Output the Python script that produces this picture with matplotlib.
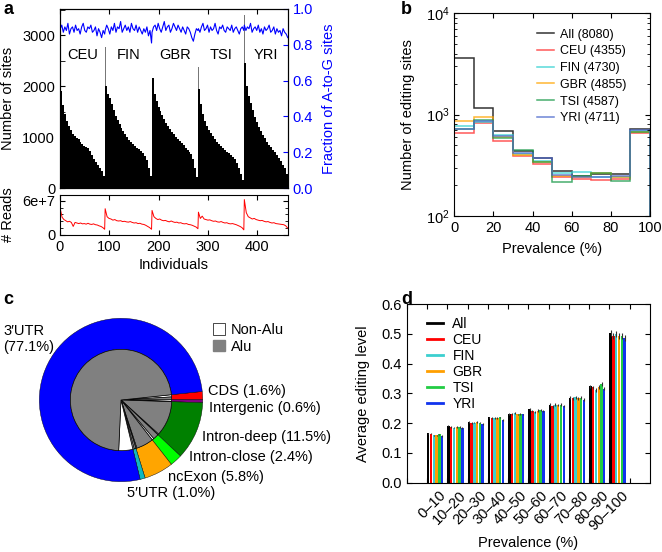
import numpy as np
import matplotlib
matplotlib.use('Agg')
import matplotlib.pyplot as plt
from matplotlib.lines import Line2D
from matplotlib.patches import Patch
from matplotlib.ticker import MultipleLocator

plt.rcParams['font.family'] = ['Liberation Sans', 'DejaVu Sans']
plt.rcParams['font.size'] = 10.5

W, H = 662, 552

# ---------------- panel a data ----------------
pops = ['CEU', 'FIN', 'GBR', 'TSI', 'YRI']
pop_sizes = [91, 95, 94, 93, 89]

# number of sites per individual (sorted, read in blocks of ~4 individuals)
sites_ceu = [1900, 1620, 1460, 1320, 1210, 1130, 1060, 1010, 985, 960, 910, 860,
             830, 800, 775, 720, 640, 570, 510, 450, 390, 330, 230]
sites_fin = [2000, 1850, 1760, 1640, 1520, 1420, 1330, 1250, 1170, 1110, 1050, 1000,
             950, 900, 860, 820, 790, 770, 730, 690, 630, 550, 400, 230]
sites_gbr = [2150, 1850, 1700, 1590, 1510, 1440, 1360, 1280, 1210, 1150, 1100, 1050,
             1000, 960, 920, 880, 840, 790, 750, 710, 670, 560, 400, 220]
sites_tsi = [1950, 1640, 1450, 1310, 1210, 1140, 1070, 1010, 960, 900, 860, 820,
             780, 740, 710, 680, 650, 610, 560, 500, 400, 280, 160]
sites_yri = [2450, 2000, 1800, 1660, 1520, 1400, 1290, 1200, 1120, 1040, 980, 910,
             850, 800, 740, 700, 640, 590, 530, 460, 390, 280]
sites_top = [1990, 2770, 2850, 2380, 3400]   # top individual of each population

# fraction of A-to-G sites
frac_ceu = [0.89, 0.91, 0.87, 0.90, 0.88, 0.92, 0.86, 0.89, 0.90, 0.87, 0.91, 0.88,
            0.89, 0.86, 0.90, 0.92, 0.88, 0.87, 0.90, 0.89, 0.91, 0.87, 0.88, 0.90,
            0.85, 0.89, 0.87, 0.84, 0.88, 0.86]
frac_fin = [0.88, 0.91, 0.89, 0.86, 0.90, 0.88, 0.92, 0.87, 0.90, 0.89, 0.93, 0.87,
            0.89, 0.91, 0.88, 0.90, 0.87, 0.92, 0.89, 0.88, 0.91, 0.87, 0.90, 0.88,
            0.86, 0.89, 0.87, 0.90, 0.85, 0.88, 0.81]
frac_gbr = [0.87, 0.90, 0.91, 0.88, 0.92, 0.89, 0.87, 0.90, 0.93, 0.88, 0.90, 0.91,
            0.87, 0.89, 0.92, 0.90, 0.88, 0.91, 0.89, 0.87, 0.90, 0.88, 0.86, 0.90,
            0.89, 0.87, 0.84, 0.82, 0.86, 0.89, 0.88]
frac_tsi = [0.89, 0.87, 0.90, 0.92, 0.88, 0.89, 0.91, 0.87, 0.90, 0.88, 0.89, 0.92,
            0.88, 0.86, 0.90, 0.89, 0.91, 0.88, 0.87, 0.90, 0.89, 0.88, 0.91, 0.87,
            0.89, 0.90, 0.88, 0.86, 0.89, 0.90, 0.88]
frac_yri = [0.91, 0.88, 0.90, 0.89, 0.92, 0.87, 0.89, 0.90, 0.88, 0.91, 0.87, 0.89,
            0.86, 0.90, 0.88, 0.89, 0.91, 0.87, 0.88, 0.90, 0.86, 0.89, 0.87, 0.88,
            0.85, 0.89, 0.87, 0.86, 0.84]

# number of reads (x 1e7)
reads_ceu = [4.6, 3.1, 2.7, 2.5, 2.3, 2.4, 2.2, 1.5, 2.2, 2.1, 2.0, 2.1, 1.95, 2.0,
             1.9, 2.05, 1.9, 1.85, 1.95, 1.8, 1.75, 1.6, 1.5, 1.3, 1.0]
reads_fin = [4.6, 3.2, 2.9, 2.8, 2.6, 2.7, 2.5, 2.45, 2.5, 2.35, 2.4, 2.3, 2.25, 2.35,
             2.2, 2.1, 2.15, 2.0, 2.05, 1.9, 1.85, 1.7, 1.5, 1.3, 1.0]
reads_gbr = [4.3, 3.2, 2.9, 2.7, 2.8, 2.6, 2.5, 2.55, 2.4, 2.3, 2.45, 2.3, 2.2, 2.25,
             2.1, 2.15, 2.0, 1.95, 2.0, 1.85, 1.8, 1.7, 1.55, 1.4, 1.1]
reads_tsi = [4.0, 2.9, 3.3, 2.8, 2.7, 2.6, 2.65, 2.5, 2.4, 2.45, 2.3, 2.25, 2.35, 2.2,
             2.1, 2.15, 2.0, 1.95, 2.0, 1.9, 1.8, 1.65, 1.5, 1.3, 0.9]
reads_yri = [6.2, 3.9, 3.2, 3.0, 2.8, 2.9, 2.7, 2.6, 2.5, 2.55, 2.4, 2.3, 2.35, 2.2,
             2.1, 2.15, 2.0, 1.95, 1.9, 1.85, 1.8, 1.6, 1.2]

# ---------------- panel b data ----------------
prev_edges = [0, 10, 20, 30, 40, 50, 60, 70, 80, 90, 100]
b_labels = ['All (8080)', 'CEU (4355)', 'FIN (4730)', 'GBR (4855)', 'TSI (4587)', 'YRI (4711)']
b_all = [3650, 1150, 690, 435, 370, 280, 250, 258, 258, 730]
b_ceu = [660, 833, 554, 394, 326, 240, 230, 226, 230, 655]
b_fin = [773, 853, 630, 410, 352, 264, 274, 240, 240, 690]
b_gbr = [860, 950, 600, 400, 340, 248, 240, 264, 245, 680]
b_tsi = [720, 887, 585, 448, 339, 218, 250, 264, 221, 680]
b_yri = [718, 870, 610, 416, 376, 255, 241, 245, 250, 700]

# ---------------- panel c data ----------------
region_labels = ['CDS', 'Intergenic', 'Intron-deep', 'Intron-close', 'ncExon', "5\u2032UTR", "3\u2032UTR"]
region_pct = [1.6, 0.6, 11.5, 2.4, 5.8, 1.0, 77.1]
# inner ring: Alu / Non-Alu split inside each region (same clockwise order)
inner_kind = ['Non-Alu', 'Alu', 'Non-Alu', 'Alu', 'Alu', 'Non-Alu', 'Alu', 'Non-Alu',
              'Alu', 'Non-Alu', 'Alu', 'Non-Alu', 'Non-Alu', 'Alu']
inner_pct = [0.7, 0.9, 0.5, 0.1, 11.2, 0.3, 1.8, 0.6, 5.5, 0.3, 0.6, 0.4, 4.5, 72.6]

# ---------------- panel d data ----------------
bins = ['0\u201310', '10\u201320', '20\u201330', '30\u201340', '40\u201350',
        '50\u201360', '60\u201370', '70\u201380', '80\u201390', '90\u2013100']
d_series = ['All', 'CEU', 'FIN', 'GBR', 'TSI', 'YRI']
d_all = [0.166, 0.192, 0.204, 0.219, 0.231, 0.247, 0.262, 0.285, 0.323, 0.502]
d_ceu = [0.164, 0.186, 0.200, 0.216, 0.231, 0.240, 0.256, 0.283, 0.320, 0.494]
d_fin = [0.159, 0.185, 0.202, 0.217, 0.233, 0.238, 0.262, 0.287, 0.312, 0.498]
d_gbr = [0.159, 0.188, 0.203, 0.217, 0.229, 0.242, 0.260, 0.283, 0.321, 0.493]
d_tsi = [0.163, 0.186, 0.202, 0.219, 0.231, 0.244, 0.262, 0.285, 0.332, 0.491]
d_yri = [0.157, 0.184, 0.198, 0.211, 0.229, 0.240, 0.258, 0.278, 0.316, 0.487]
d_err = [0.002, 0.003, 0.003, 0.003, 0.003, 0.004, 0.004, 0.005, 0.006, 0.010]


def rect(l, t, r, b):
    return [l / W, 1 - b / H, (r - l) / W, (b - t) / H]


fig = plt.figure(figsize=(W / 100, H / 100), dpi=100)

# ================= panel a =================
ax1 = fig.add_axes(rect(60, 9, 288, 188))
ax1r = ax1.twinx()
ax2 = fig.add_axes(rect(60, 195, 288, 235))

sites = [sites_ceu, sites_fin, sites_gbr, sites_tsi, sites_yri]
fracs = [frac_ceu, frac_fin, frac_gbr, frac_tsi, frac_yri]
reads = [reads_ceu, reads_fin, reads_gbr, reads_tsi, reads_yri]

fx, fy, rx, ry = [], [], [], []
start = 0
for name, n, s, top, fr, rd in zip(pops, pop_sizes, sites, sites_top, fracs, reads):
    edges = np.linspace(start, start + n, len(s) + 1)
    ax1.bar(start, top, width=1.2, align='edge', color='#777777', linewidth=0)
    ax1.bar(edges[:-1], s, width=np.diff(edges), align='edge', color='black', linewidth=0)
    ax1.text(start + n / 2, 2600, name, ha='center', va='center', fontsize=10.5)
    fx.extend(np.linspace(start + 0.5, start + n - 0.5, len(fr)))
    fy.extend(fr)
    rx.extend(np.linspace(start + 0.5, start + n - 0.5, len(rd)))
    ry.extend(np.array(rd) * 1e7)
    start += n

ax1r.plot(fx, fy, color='blue', lw=0.8)
ax1.set_xlim(0, sum(pop_sizes))
ax1.set_ylim(0, 3510)
ax1.set_yticks([0, 1000, 2000, 3000])
ax1.yaxis.set_minor_locator(MultipleLocator(500))
ax1.xaxis.set_major_locator(MultipleLocator(100))
ax1.tick_params(which='both', direction='in', top=True, labelbottom=False)
ax1.tick_params(which='minor', length=3.5)
ax1.set_ylabel('Number of sites')
ax1.yaxis.set_label_coords(-0.197, 0.5)

ax1r.set_ylim(0, 1)
ax1r.set_yticks(np.arange(0, 1.01, 0.2))
ax1r.tick_params(direction='in', colors='blue')
ax1r.set_ylabel('Fraction of A-to-G sites', color='blue')
ax1r.yaxis.set_label_coords(1.15, 0.5)

ax2.plot(rx, ry, color='red', lw=0.7)
ax2.set_xlim(0, sum(pop_sizes))
ax2.set_ylim(0, 7e7)
ax2.set_yticks([0, 6e7], ['0', '6e+7'])
ax2.yaxis.set_minor_locator(MultipleLocator(1.2e7))
ax2.xaxis.set_major_locator(MultipleLocator(100))
ax2.tick_params(which='both', direction='in', top=True, right=True)
ax2.set_ylabel('# Reads')
ax2.yaxis.set_label_coords(-0.197, 0.5)
ax2.set_xlabel('Individuals')
ax2.xaxis.set_label_coords(0.5, -0.58)

# ================= panel b =================
axb = fig.add_axes(rect(454.3, 13.3, 650, 216))
b_colors = ['black', '#ff3030', '#30d0d0', '#ffa500', '#1a9a4a', '#4a66cc']
for vals, col, lab in zip([b_all, b_ceu, b_fin, b_gbr, b_tsi, b_yri], b_colors, b_labels):
    axb.stairs(vals, prev_edges, color=col, lw=1.1, alpha=0.8, label=lab)
axb.set_yscale('log')
axb.set_ylim(100, 10000)
axb.set_xlim(0, 100)
axb.xaxis.set_major_locator(MultipleLocator(20))
axb.tick_params(which='both', direction='in', top=True, right=True)
axb.set_ylabel('Number of editing sites')
axb.yaxis.set_label_coords(-0.2, 0.5)
axb.set_xlabel('Prevalence (%)')
axb.xaxis.set_label_coords(0.5, -0.13)
axb.legend(loc='upper left', bbox_to_anchor=(0.425, 0.925), frameon=False, fontsize=9,
           handlelength=1.3, handletextpad=0.5, labelspacing=0.38, borderpad=0, borderaxespad=0)

# ================= panel c =================
axc = fig.add_axes(rect(39.3, 318.3, 202.7, 481.7))
region_colors = ['#ff0000', '#800080', '#008000', '#00ff00', '#ffa500', '#10b8c0', '#0000ff']
axc.pie(region_pct, colors=region_colors, startangle=6, counterclock=False, radius=1,
        wedgeprops=dict(width=0.38, edgecolor='black', linewidth=0.3))
inner_colors = ['#808080' if k == 'Alu' else 'white' for k in inner_kind]
axc.pie(inner_pct, colors=inner_colors, startangle=6, counterclock=False, radius=0.62,
        wedgeprops=dict(edgecolor='black', linewidth=0.5))
axc.set_xlim(-1, 1)
axc.set_ylim(-1, 1)

fig.text(3 / W, 1 - 324 / H, "3\u2032UTR\n(77.1%)", ha='left', va='top', linespacing=1.15)
label_pos = {'CDS': (208, 391), 'Intergenic': (209, 408), 'Intron-deep': (202, 437),
             'Intron-close': (189, 457), 'ncExon': (168, 477), "5\u2032UTR": (127, 493)}
for lab, pct in zip(region_labels, region_pct):
    if lab in label_pos:
        x, y = label_pos[lab]
        fig.text(x / W, 1 - y / H, f'{lab} ({pct}%)', ha='left', va='center')
fig.legend(handles=[Patch(facecolor='white', edgecolor='black', lw=0.5, label='Non-Alu'),
                    Patch(facecolor='#808080', edgecolor='#808080', label='Alu')],
           loc='upper left', bbox_to_anchor=(213 / W, 1 - 323 / H), frameon=False,
           handlelength=0.8, handleheight=0.8, handletextpad=0.4, labelspacing=0.2,
           borderpad=0, borderaxespad=0)

# ================= panel d =================
axd = fig.add_axes(rect(406.7, 304, 650, 482.7))
d_colors = ['black', '#ff0000', '#3ccfcf', '#ff9f00', '#22cc44', '#1133ee']
d_vals = [d_all, d_ceu, d_fin, d_gbr, d_tsi, d_yri]
x0 = np.arange(1, len(bins) + 1)
step, bw = 0.137, 0.12
for j, (vals, col) in enumerate(zip(d_vals, d_colors)):
    axd.bar(x0 + j * step, vals, width=bw, align='edge', color=col, linewidth=0,
            yerr=d_err, error_kw=dict(ecolor='#333333', elinewidth=0.8, capsize=0))
axd.set_xlim(0, 12)
axd.set_ylim(0, 0.6)
axd.set_xticks(np.arange(0, 12))
axd.set_xticks(x0 + 0.6, bins, minor=True, rotation=45, ha='right', rotation_mode='anchor')
axd.tick_params(which='major', labelbottom=False, direction='in', top=True, right=True)
axd.tick_params(which='minor', length=0, pad=4)
axd.set_yticks(np.arange(0, 0.61, 0.1))
axd.set_ylabel('Average editing level')
axd.yaxis.set_label_coords(-0.151, 0.5)
axd.set_xlabel('Prevalence (%)')
axd.xaxis.set_label_coords(0.5, -0.3)
axd.legend(handles=[Line2D([], [], color=c, lw=2) for c in d_colors], labels=d_series,
           loc='upper left', bbox_to_anchor=(0.085, 0.93), frameon=False, fontsize=10,
           handlelength=1.1, handletextpad=0.7, labelspacing=0.15, borderpad=0, borderaxespad=0)

# panel letters
for letter, (x, y) in zip('abcd', [(3, 10), (401, 10), (3, 300), (401, 299)]):
    fig.text(x / W, 1 - y / H, letter, fontsize=13, fontweight='bold', ha='left', va='center')

fig.savefig('out.png', dpi=100)
